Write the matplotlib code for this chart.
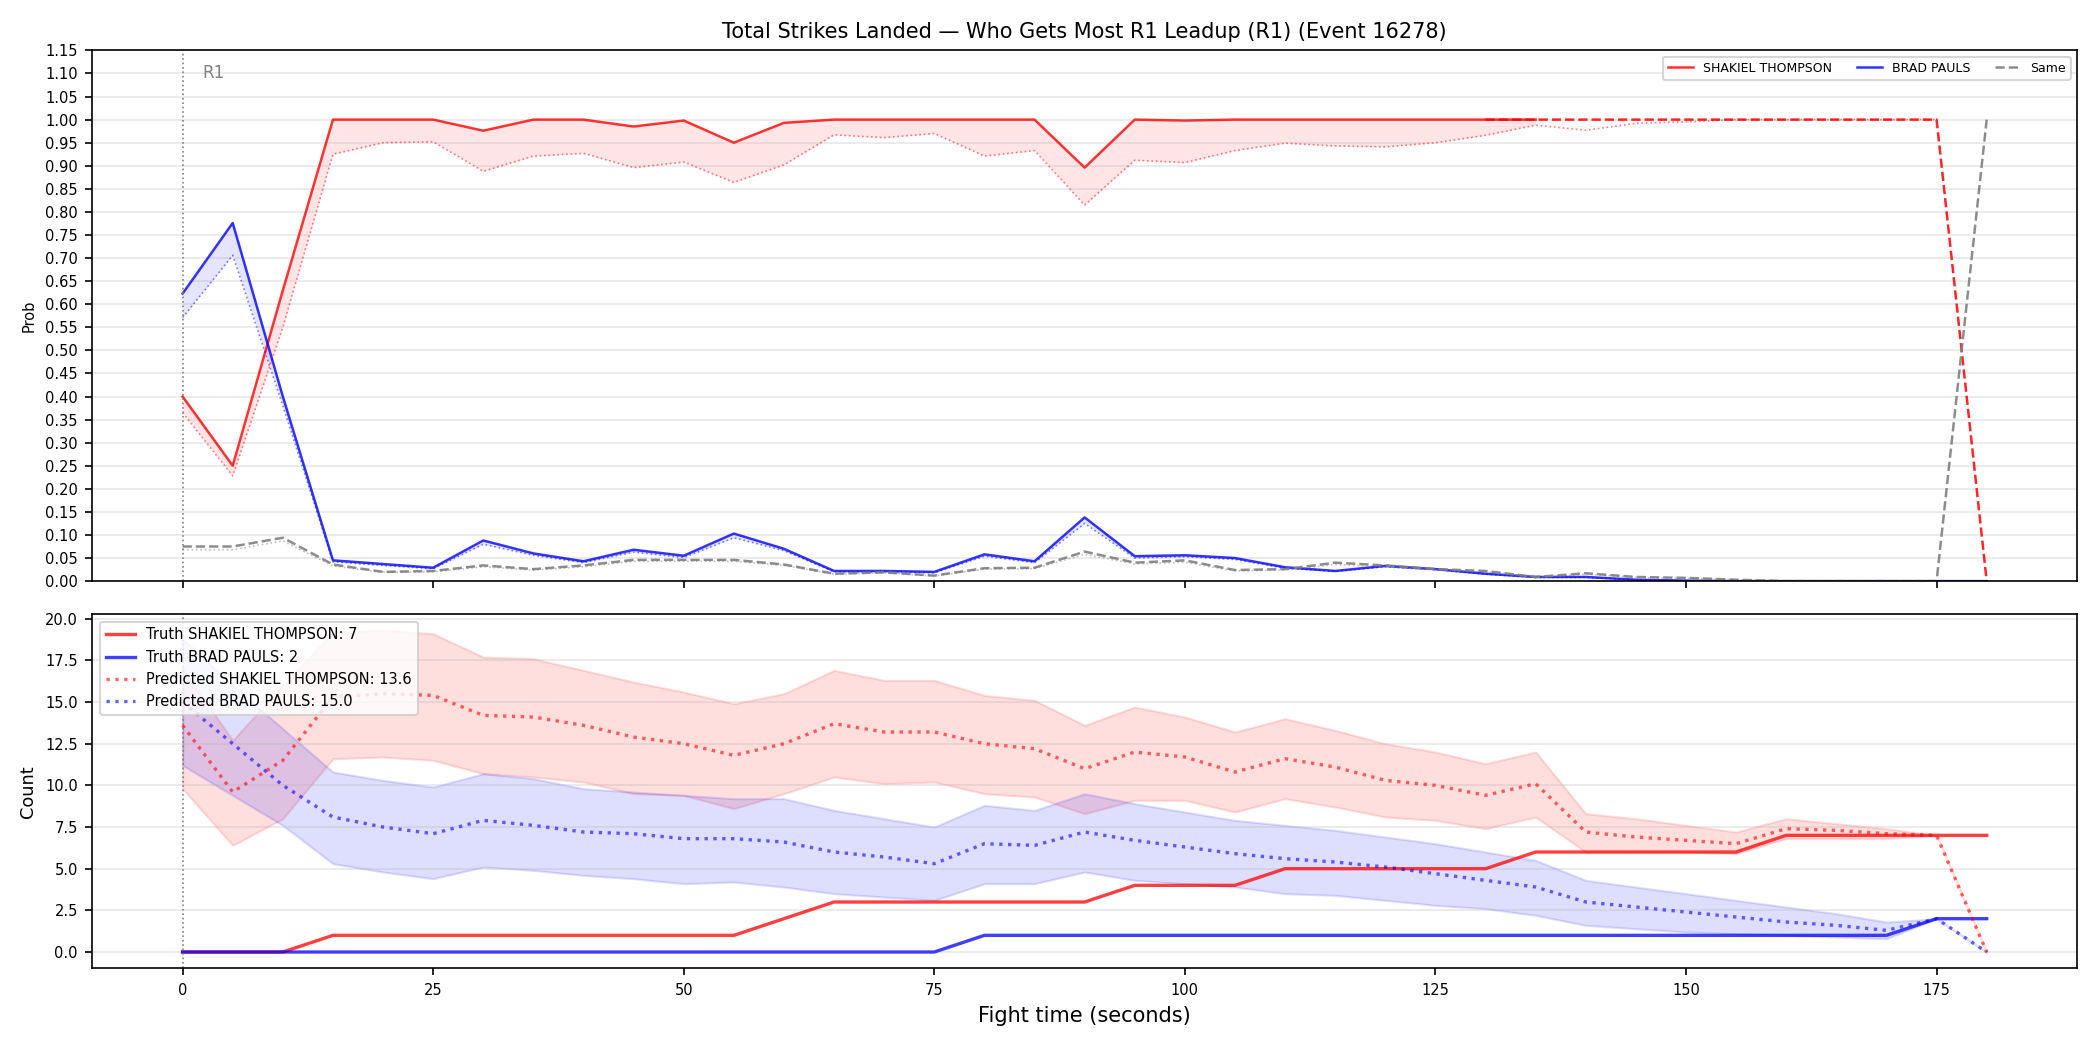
import numpy as np
import matplotlib
matplotlib.use("Agg")
import matplotlib.pyplot as plt

# tempo de luta (s)
t = list(range(0, 181, 5))

# painel de cima: probabilidade (linha cheia) e bruta (pontilhada)
prob_red = [0.40, 0.25, 0.63, 1.0, 1.0, 1.0, 0.976, 1.0, 1.0, 0.985, 0.998, 0.95,
            0.993, 1.0, 1.0, 1.0, 1.0, 1.0, 0.896, 1.0, 0.998, 1.0, 1.0, 1.0,
            1.0, 1.0, 1.0, 1.0]  # até 135
raw_red = [0.365, 0.228, 0.55, 0.925, 0.95, 0.952, 0.888, 0.921, 0.927, 0.896, 0.908, 0.864,
           0.902, 0.967, 0.961, 0.970, 0.921, 0.933, 0.815, 0.912, 0.907, 0.933, 0.949, 0.943,
           0.941, 0.95, 0.966, 0.988, 0.977, 0.992, 0.995, 1.0, 1.0, 1.0, 1.0, 1.0]  # até 175
final_red = [1.0, 1.0, 1.0, 1.0, 1.0, 1.0, 1.0, 1.0, 1.0, 1.0, 0.0]  # 130 -> 180

prob_blue = [0.623, 0.776, 0.40, 0.045, 0.037, 0.029, 0.088, 0.06, 0.043, 0.068, 0.055, 0.103,
             0.07, 0.022, 0.022, 0.02, 0.058, 0.043, 0.138, 0.054, 0.056, 0.05, 0.03, 0.022,
             0.033, 0.026, 0.016, 0.009, 0.009, 0.003, 0.001, 0, 0, 0, 0, 0, 0]
raw_blue = [0.571, 0.706, 0.38, 0.042, 0.034, 0.027, 0.08, 0.056, 0.04, 0.063, 0.051, 0.094,
            0.066, 0.02, 0.02, 0.018, 0.054, 0.04, 0.125, 0.05, 0.053, 0.047, 0.028, 0.021,
            0.031, 0.025, 0.015, 0.008, 0.008, 0.003, 0.001, 0, 0, 0, 0, 0, 0]

prob_same = [0.075, 0.075, 0.094, 0.036, 0.02, 0.022, 0.034, 0.026, 0.034, 0.046, 0.046, 0.046,
             0.036, 0.016, 0.019, 0.012, 0.028, 0.029, 0.064, 0.04, 0.045, 0.024, 0.026, 0.04,
             0.034, 0.026, 0.022, 0.009, 0.017, 0.009, 0.007, 0.003, 0, 0, 0, 0, 1.0]
raw_same = [0.068, 0.068, 0.087, 0.033, 0.019, 0.02, 0.031, 0.024, 0.031, 0.043, 0.043, 0.043,
            0.034, 0.015, 0.018, 0.011, 0.026, 0.027, 0.058, 0.037, 0.041, 0.022, 0.024, 0.036,
            0.031, 0.024, 0.02, 0.008, 0.015, 0.008, 0.006, 0.003, 0, 0, 0, 0]  # até 175

# painel de baixo: contagens
truth_red = [0, 0, 0, 1, 1, 1, 1, 1, 1, 1, 1, 1, 2, 3, 3, 3, 3, 3, 3, 4, 4, 4, 5, 5, 5,
             5, 5, 6, 6, 6, 6, 6, 7, 7, 7, 7, 7]
truth_blue = [0] * 16 + [1] * 19 + [2, 2]

pred_red = [13.6, 9.6, 11.5, 15.3, 15.5, 15.4, 14.2, 14.1, 13.6, 12.9, 12.5, 11.8,
            12.5, 13.7, 13.2, 13.2, 12.5, 12.2, 11.0, 12.0, 11.7, 10.8, 11.6, 11.1,
            10.3, 10.0, 9.4, 10.1, 7.2, 6.9, 6.7, 6.5, 7.4, 7.3, 7.1, 7.0, 0.0]
red_lo = [9.8, 6.4, 8.0, 11.6, 11.7, 11.5, 10.7, 10.5, 10.2, 9.5, 9.4, 8.6,
          9.5, 10.5, 10.1, 10.2, 9.5, 9.3, 8.3, 9.1, 9.1, 8.4, 9.2, 8.7,
          8.1, 7.9, 7.4, 8.1, 6.0, 6.0, 6.0, 5.9, 6.8, 6.8, 6.8, 7.0, 0.0]
red_hi = [17.0, 12.7, 16.0, 19.2, 19.3, 19.1, 17.7, 17.6, 16.9, 16.2, 15.6, 14.9,
          15.5, 16.9, 16.3, 16.3, 15.4, 15.1, 13.6, 14.7, 14.1, 13.2, 14.0, 13.3,
          12.5, 12.0, 11.3, 12.0, 8.3, 8.0, 7.6, 7.2, 8.0, 7.7, 7.4, 7.0, 0.0]

pred_blue = [15.0, 12.5, 10.0, 8.1, 7.5, 7.1, 7.9, 7.6, 7.2, 7.1, 6.8, 6.8,
             6.6, 6.0, 5.7, 5.3, 6.5, 6.4, 7.2, 6.7, 6.3, 5.9, 5.6, 5.4,
             5.1, 4.7, 4.3, 3.9, 3.0, 2.7, 2.4, 2.1, 1.8, 1.6, 1.3, 2.0, 0.0]
blue_lo = [11.2, 9.4, 7.6, 5.3, 4.8, 4.4, 5.1, 4.9, 4.6, 4.4, 4.1, 4.2,
           3.9, 3.5, 3.3, 3.1, 4.1, 4.1, 4.8, 4.3, 4.1, 3.9, 3.5, 3.4,
           3.1, 2.8, 2.6, 2.2, 1.6, 1.4, 1.2, 1.1, 1.0, 0.9, 0.8, 2.0, 0.0]
blue_hi = [18.8, 16.0, 13.4, 10.8, 10.3, 9.9, 10.7, 10.4, 9.8, 9.6, 9.4, 9.2,
           9.2, 8.5, 8.0, 7.5, 8.8, 8.5, 9.5, 8.9, 8.4, 7.9, 7.6, 7.3,
           6.9, 6.5, 6.0, 5.5, 4.3, 3.9, 3.5, 3.1, 2.7, 2.3, 1.8, 2.0, 0.0]

nome_red = "SHAKIEL THOMPSON"
nome_blue = "BRAD PAULS"

t = np.array(t)
t_red = t[:len(prob_red)]
t_raw = t[:len(raw_red)]
t_final = t[-len(final_red):]

fig, (ax1, ax2) = plt.subplots(2, 1, figsize=(14, 7), dpi=150, sharex=True,
                               gridspec_kw={"height_ratios": [3, 2], "hspace": 0.075})
fig.subplots_adjust(left=0.044, right=0.989, top=0.952, bottom=0.078)

# ==========================================================================
# Painel 1: probabilidades
# ==========================================================================
ax1.plot(t_red, prob_red, color="red", alpha=0.8, lw=1.2, label=nome_red)
ax1.plot(t_raw, raw_red, color="red", alpha=0.5, lw=0.8, ls=":")
ax1.fill_between(t_red, prob_red, raw_red[:len(prob_red)], color="red", alpha=0.1, lw=0)
ax1.plot(t_final, final_red, color="red", alpha=0.85, lw=1.2, ls="--")

ax1.plot(t, prob_blue, color="blue", alpha=0.8, lw=1.2, label=nome_blue)
ax1.plot(t, raw_blue, color="blue", alpha=0.5, lw=0.8, ls=":")
ax1.fill_between(t, prob_blue, raw_blue, color="blue", alpha=0.1, lw=0)

ax1.plot(t, prob_same, color="gray", alpha=0.9, lw=1.2, ls="--", label="Same")
ax1.plot(t_raw, raw_same, color="gray", alpha=0.5, lw=0.8, ls=":")

ax1.axvline(0, color="gray", ls=":", lw=0.8)
ax1.text(2, 1.10, "R1", color="gray", fontsize=8, va="center")

ax1.set_ylim(0, 1.15)
ax1.set_yticks(np.arange(0, 1.151, 0.05))
ax1.set_ylabel("Prob", fontsize=7)
ax1.tick_params(labelsize=7)
ax1.grid(axis="y", alpha=0.3)
ax1.legend(loc="upper right", ncol=3, fontsize=6)
ax1.set_title("Total Strikes Landed — Who Gets Most R1 Leadup (R1) (Event 16278)", fontsize=10)

# ==========================================================================
# Painel 2: contagens
# ==========================================================================
ax2.fill_between(t, red_lo, red_hi, color="red", alpha=0.13)
ax2.fill_between(t, blue_lo, blue_hi, color="blue", alpha=0.13)
ax2.plot(t, truth_red, color="red", alpha=0.75, lw=1.6, label=f"Truth {nome_red}: {truth_red[-1]}")
ax2.plot(t, truth_blue, color="blue", alpha=0.75, lw=1.6, label=f"Truth {nome_blue}: {truth_blue[-1]}")
ax2.plot(t, pred_red, color="red", alpha=0.6, lw=1.6, ls=":", label=f"Predicted {nome_red}: {pred_red[0]:.1f}")
ax2.plot(t, pred_blue, color="blue", alpha=0.6, lw=1.6, ls=":", label=f"Predicted {nome_blue}: {pred_blue[0]:.1f}")
ax2.axvline(0, color="gray", ls=":", lw=0.8)

ax2.set_ylabel("Count", fontsize=8.5)
ax2.set_xlabel("Fight time (seconds)", fontsize=10)
ax2.tick_params(labelsize=7)
ax2.grid(axis="y", alpha=0.3)
ax2.legend(loc="upper left", fontsize=7)

plt.savefig("out.png", dpi=150)
plt.close()
